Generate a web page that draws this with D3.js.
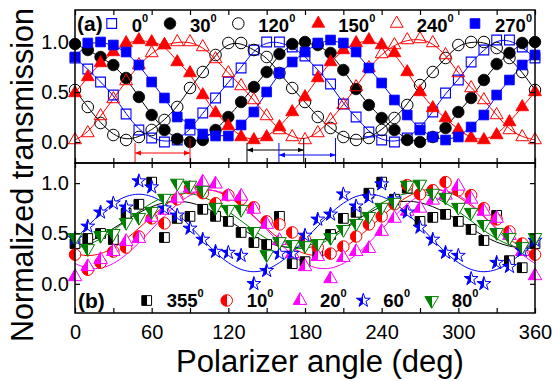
<!DOCTYPE html>
<html><head><meta charset="utf-8">
<script src="https://cdn.jsdelivr.net/npm/d3@7"></script>
<style>body{margin:0;background:#fff;} svg{display:block;font-family:Arial,"Liberation Sans",sans-serif;}</style>
</head><body><svg id="c" width="554" height="381"></svg>
<script>
// ---------- data ----------
const angles = [0,10,20,30,40,50,60,70,80,90,100,110,120,130,140,150,160,170,180,190,200,210,220,230,240,250,260,270,280,290,300,310,320,330,340,350,360];
const xTicks = [0,30,60,90,120,150,180,210,240,270,300,330,360];
const xLabels = [0,60,120,180,240,300,360];
const yTicks = [0,0.5,1.0];

// panel (a)
const labelsA = ["0","30","120","150","240","270"];
const a0   = [.84,.73,.60,.47,.28,.12,.04,.00,.02,.12,.29,.44,.60,.74,.92,1.0,1.0,.95,.86,.72,.58,.38,.25,.10,.02,.00,.04,.14,.30,.49,.62,.80,.92,1.02,1.02,.95,.84];
const a30  = [.98,.92,.85,.77,.64,.45,.27,.12,.03,.00,.02,.12,.25,.40,.55,.70,.88,.98,1.0,.97,.89,.72,.53,.37,.24,.12,.02,.00,.05,.14,.30,.44,.62,.78,.89,.99,1.0];
const a120 = [.52,.35,.19,.07,.02,.05,.12,.22,.35,.54,.70,.87,.99,.99,.92,.85,.69,.54,.40,.25,.14,.05,.02,.04,.12,.24,.37,.57,.70,.84,.97,1.0,1.0,.94,.84,.70,.52];
const a150 = [.49,.65,.79,.90,.99,1.02,1.0,.97,.80,.69,.47,.29,.16,.05,.02,.05,.15,.30,.45,.64,.80,.92,.99,1.02,.97,.89,.70,.50,.34,.24,.12,.04,.02,.07,.20,.35,.50];
const a240 = [.02,.09,.26,.43,.61,.77,.89,.97,1.0,1.0,.95,.83,.69,.56,.42,.26,.12,.05,.02,.09,.22,.37,.55,.74,.88,.97,1.02,1.03,.99,.87,.69,.54,.42,.27,.12,.05,.02];
const a270 = [.85,.99,1.0,.97,.90,.77,.60,.44,.25,.18,.08,.06,.06,.17,.30,.50,.69,.80,.90,.99,1.02,.99,.90,.74,.59,.42,.27,.12,.05,.02,.05,.15,.27,.47,.62,.77,.87];

// annotation arrows in panel (a): [start deg, end deg, y value]
const arrowStart = [47, 134.6, 159.6];
const arrowEnd   = [90, 179, 203.9];
const arrowLevel = [-0.11, -0.08, -0.13];

// panel (b) measured points
const labelsB = ["355","10","20","60","80"];
const b355 = [.40,.45,.50,.44,.70,.79,1.01,.46,.65,.67,.74,.67,.62,.51,.41,.39,.67,.20,.22,.28,.49,.65,.71,.90,1.01,.84,.95,.62,.66,.69,.62,.54,.43,.68,.23,.16,.40];
const b10  = [.29,.14,.21,.32,.36,.47,.65,.60,.84,.95,.90,.80,.88,.84,.76,.62,.59,.51,.44,.36,.30,.37,.47,.59,.67,.79,.98,.89,.93,1.01,.93,.88,.75,.64,.52,.40,.29];
const b20  = [.07,.17,.24,.32,.42,.45,.66,.73,.85,.95,1.01,.99,.87,.87,.74,.59,.43,.30,.17,.27,.05,.26,.32,.35,.52,.65,.72,.75,.83,.88,.97,.84,.72,.65,.48,.32,.08];
const b60  = [.45,.57,.71,.80,.76,1.02,.96,.75,.68,.55,.44,.32,.31,.28,.00,.13,.30,.30,.48,.64,.69,.89,.77,.86,.99,.84,.71,.56,.44,.31,.28,.05,.00,.21,.17,.33,.43];
const b80  = [.46,.35,.48,.50,.61,.66,.72,.85,1.0,.98,.93,.76,.74,.74,.52,.29,.42,.39,.38,.40,.46,.54,.60,.67,.76,.81,.98,.99,.90,.86,.76,.71,.59,.51,.46,.37,.46];
// panel (b) fit curves
const f355 = [.374,.414,.475,.55,.63,.705,.766,.806,.82,.806,.766,.705,.63,.55,.475,.414,.374,.36,.374,.414,.475,.55,.63,.705,.766,.806,.82,.806,.766,.705,.63,.55,.475,.414,.374,.36,.374];
const f10  = [.30,.28,.30,.357,.445,.553,.667,.775,.863,.92,.94,.92,.863,.775,.667,.553,.445,.357,.30,.28,.30,.357,.445,.553,.667,.775,.863,.92,.94,.92,.863,.775,.667,.553,.445,.357,.30];
const f20  = [.202,.156,.156,.202,.29,.407,.54,.673,.79,.878,.924,.924,.878,.79,.673,.54,.407,.29,.202,.156,.156,.202,.29,.407,.54,.673,.79,.878,.924,.924,.878,.79,.673,.54,.407,.29,.202];
const f60  = [.44,.572,.698,.80,.867,.89,.867,.80,.698,.572,.44,.313,.21,.143,.12,.143,.21,.313,.44,.572,.698,.80,.867,.89,.867,.80,.698,.572,.44,.313,.21,.143,.12,.143,.21,.313,.44];
const f80  = [.354,.387,.448,.531,.625,.719,.802,.863,.896,.896,.863,.802,.719,.625,.531,.448,.387,.354,.354,.387,.448,.531,.625,.719,.802,.863,.896,.896,.863,.802,.719,.625,.531,.448,.387,.354,.354];

// ---------- setup ----------
const BLUE="#0000ff", RED="#ff0000", MAG="#ff00ff", GRN="#007f00", BLK="#000000";
const svg = d3.select("#c");
const L=75, R=535, TA=10, MID=163, BB=313;
const x = d3.scaleLinear().domain([0,360]).range([L,R]);
const ya = d3.scaleLinear().domain([-0.21,1.32]).range([MID,TA]);
const yb = d3.scaleLinear().domain([-0.29,1.2]).range([BB,MID]);

const defs = svg.append("defs");
[["black",BLK],["red",RED],["mag",MAG],["blue",BLUE],["green",GRN]].forEach(([id,c])=>{
  const g = defs.append("linearGradient").attr("id","h-"+id).attr("x1",0).attr("x2",1).attr("y1",0).attr("y2",0);
  g.append("stop").attr("offset","50%").attr("stop-color",c);
  g.append("stop").attr("offset","50%").attr("stop-color","#fff");
});
[["red",RED],["black",BLK],["blue",BLUE]].forEach(([id,c])=>{
  defs.append("marker").attr("id","ar-"+id).attr("viewBox","0 0 10 10").attr("refX",10).attr("refY",5)
    .attr("markerWidth",6).attr("markerHeight",6).attr("markerUnits","userSpaceOnUse").attr("orient","auto-start-reverse")
    .append("path").attr("d","M0,1L10,5L0,9Z").attr("fill",c);
});

const triDown = {draw(ctx,size){const y=-Math.sqrt(size/(Math.sqrt(3)*3)); ctx.moveTo(0,-2*y); ctx.lineTo(-Math.sqrt(3)*y,y); ctx.lineTo(Math.sqrt(3)*y,y); ctx.closePath();}};
const sym = (t,s)=>d3.symbol().type(t).size(s)();

const seriesA = [
  {lab:labelsA[0], d:a0,   t:d3.symbolSquare,   s:95,  fill:"none", stroke:BLUE, sw:1.1},
  {lab:labelsA[1], d:a30,  t:d3.symbolCircle,   s:105, fill:BLK,    stroke:BLK,  sw:0.8},
  {lab:labelsA[2], d:a120, t:d3.symbolCircle,   s:105, fill:"none", stroke:BLK,  sw:1.0},
  {lab:labelsA[3], d:a150, t:d3.symbolTriangle, s:72,  fill:RED,    stroke:RED,  sw:0.8},
  {lab:labelsA[4], d:a240, t:d3.symbolTriangle, s:72,  fill:"none", stroke:RED,  sw:1.0},
  {lab:labelsA[5], d:a270, t:d3.symbolSquare,   s:95,  fill:BLUE,   stroke:BLUE, sw:0.8},
];
const seriesB = [
  {lab:labelsB[0], d:b355, f:f355, t:d3.symbolSquare,   s:95, fill:"url(#h-black)", stroke:BLK},
  {lab:labelsB[1], d:b10,  f:f10,  t:d3.symbolCircle,   s:105,fill:"url(#h-red)",   stroke:RED},
  {lab:labelsB[2], d:b20,  f:f20,  t:d3.symbolTriangle, s:80, fill:"url(#h-mag)",   stroke:MAG},
  {lab:labelsB[3], d:b60,  f:f60,  t:d3.symbolStar,     s:60, fill:"url(#h-blue)",  stroke:BLUE},
  {lab:labelsB[4], d:b80,  f:f80,  t:triDown,           s:80, fill:"url(#h-green)", stroke:GRN},
];

// ---------- panel (a) ----------
const lineA = d3.line().x((d,i)=>x(angles[i])).y(d=>ya(d)).curve(d3.curveBasis);
seriesA.forEach(s=>{
  svg.append("path").attr("d",lineA(s.d)).attr("fill","none").attr("stroke",s.stroke).attr("stroke-width",1);
});
seriesA.forEach(s=>{
  svg.append("g").selectAll("path").data(s.d).join("path")
    .attr("transform",(d,i)=>`translate(${x(angles[i])},${ya(d)})`)
    .attr("d",sym(s.t,s.s)).attr("fill",s.fill).attr("stroke",s.stroke).attr("stroke-width",s.sw);
});
// arrows
const arCol=[RED,BLK,BLUE], arId=["red","black","blue"];
arrowStart.forEach((a,i)=>{
  const g=svg.append("g");
  g.append("line").attr("x1",x(a)).attr("x2",x(a)).attr("y1",ya(-0.01)).attr("y2",MID).attr("stroke",arCol[i]).attr("stroke-width",1);
  g.append("line").attr("x1",x(arrowEnd[i])).attr("x2",x(arrowEnd[i])).attr("y1",ya(0.04)).attr("y2",MID).attr("stroke",arCol[i]).attr("stroke-width",1);
  g.append("line").attr("x1",x(a)).attr("x2",x(arrowEnd[i])).attr("y1",ya(arrowLevel[i])).attr("y2",ya(arrowLevel[i]))
    .attr("stroke",arCol[i]).attr("stroke-width",1)
    .attr("marker-start",`url(#ar-${arId[i]})`).attr("marker-end",`url(#ar-${arId[i]})`);
});

// ---------- panel (b) ----------
const lineB = d3.line().x((d,i)=>x(angles[i])).y(d=>yb(d)).curve(d3.curveCatmullRom);
seriesB.forEach(s=>{
  svg.append("path").attr("d",lineB(s.f)).attr("fill","none").attr("stroke",s.stroke).attr("stroke-width",1);
});
seriesB.forEach(s=>{
  svg.append("g").selectAll("path").data(s.d).join("path")
    .attr("transform",(d,i)=>`translate(${x(angles[i])},${yb(d)})`)
    .attr("d",sym(s.t,s.s)).attr("fill",s.fill).attr("stroke",s.stroke).attr("stroke-width",1);
});

// ---------- axes / frames ----------
const fmt = d=> xLabels.includes(d)? d : "";
function styleAxis(g){ g.select(".domain").remove(); g.selectAll("line").attr("stroke","#000").attr("stroke-width",1.2); g.selectAll("text").attr("font-size",20).attr("font-family","Arial, Liberation Sans, sans-serif").attr("fill","#000"); }
svg.append("g").attr("transform",`translate(0,${BB})`).call(d3.axisBottom(x).tickValues(xTicks).tickSize(-5).tickPadding(12).tickFormat(fmt)).call(styleAxis);
svg.append("g").attr("transform",`translate(0,${MID})`).call(d3.axisBottom(x).tickValues(xTicks).tickSize(-5).tickFormat("")).call(styleAxis);
svg.append("g").attr("transform",`translate(0,${MID})`).call(d3.axisTop(x).tickValues(xTicks).tickSize(-5).tickFormat("")).call(styleAxis);
svg.append("g").attr("transform",`translate(0,${TA})`).call(d3.axisTop(x).tickValues(xTicks).tickSize(-5).tickFormat("")).call(styleAxis);
svg.append("g").attr("transform",`translate(${L},0)`).call(d3.axisLeft(ya).tickValues(yTicks).tickSize(-5).tickPadding(6).tickFormat(d3.format(".1f"))).call(styleAxis);
svg.append("g").attr("transform",`translate(${L},0)`).call(d3.axisLeft(yb).tickValues(yTicks).tickSize(-5).tickPadding(6).tickFormat(d3.format(".1f"))).call(styleAxis);
svg.append("g").attr("transform",`translate(${R},0)`).call(d3.axisRight(ya).tickValues(yTicks).tickSize(-5).tickFormat("")).call(styleAxis);
svg.append("g").attr("transform",`translate(${R},0)`).call(d3.axisRight(yb).tickValues(yTicks).tickSize(-5).tickFormat("")).call(styleAxis);
svg.append("rect").attr("x",L).attr("y",TA).attr("width",R-L).attr("height",MID-TA).attr("fill","none").attr("stroke","#000").attr("stroke-width",1.5);
svg.append("rect").attr("x",L).attr("y",MID).attr("width",R-L).attr("height",BB-MID).attr("fill","none").attr("stroke","#000").attr("stroke-width",1.5);

// ---------- legends ----------
function legText(xp,yp,lab){
  const t=svg.append("text").attr("x",xp).attr("y",yp).attr("font-size",18.5).attr("font-weight","bold").attr("fill","#000");
  t.append("tspan").text(lab);
  t.append("tspan").attr("font-size",11).attr("dy",-10).text("0");
}
svg.append("text").attr("x",77).attr("y",31).attr("font-size",21).attr("font-weight","bold").text("(a)");
const legAx=[111.7,170,238.3,318.3,396.7,475];
seriesA.forEach((s,i)=>{
  svg.append("path").attr("transform",`translate(${legAx[i]},23.5)`).attr("d",sym(s.t,s.s)).attr("fill",s.fill).attr("stroke",s.stroke).attr("stroke-width",s.sw);
  legText(legAx[i]+20,31.5,s.lab);
});
svg.append("text").attr("x",78).attr("y",307.5).attr("font-size",21).attr("font-weight","bold").text("(b)");
const legBx=[146.7,226.7,300,363.3,431.7];
seriesB.forEach((s,i)=>{
  svg.append("path").attr("transform",`translate(${legBx[i]},300.5)`).attr("d",sym(s.t,s.s)).attr("fill",s.fill).attr("stroke",s.stroke).attr("stroke-width",1);
  legText(legBx[i]+20,307,s.lab);
});

// ---------- titles ----------
svg.append("text").attr("transform","translate(33,175) rotate(-90)").attr("text-anchor","middle").attr("font-size",30.5).text("Normalized transmission");
svg.append("text").attr("x",320).attr("y",372).attr("text-anchor","middle").attr("font-size",31).text("Polarizer angle (deg)");
</script></body></html>
